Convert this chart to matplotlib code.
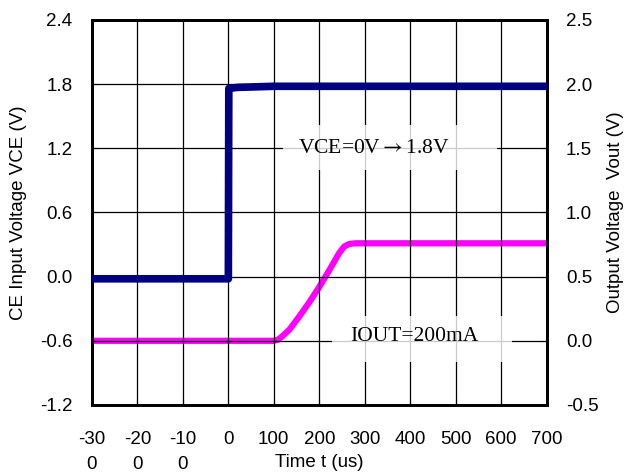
import matplotlib
matplotlib.use('Agg')
import matplotlib.pyplot as plt

# CE input step (left axis, V)
t_vce = [-300, -1, 0, 1, 20, 100, 300, 700]
vce = [-0.02, -0.02, -0.02, 1.76, 1.77, 1.78, 1.78, 1.78]

# output voltage (right axis, V)
t_out = [-300, 0, 100, 110, 120, 135, 156, 178, 200, 222, 235, 244, 255, 266,
         280, 310, 400, 500, 600, 700]
vout = [0.0, 0.0, 0.0, 0.01, 0.04, 0.09, 0.19, 0.30, 0.42, 0.55, 0.63, 0.685,
        0.735, 0.755, 0.76, 0.76, 0.76, 0.76, 0.76, 0.76]

xticks = [-300, -200, -100, 0, 100, 200, 300, 400, 500, 600, 700]
xlabels = ['-30\n0', '-20\n0', '-10\n0', '0', '100', '200', '300', '400', '500', '600', '700']
yl_ticks = [-1.2, -0.6, 0.0, 0.6, 1.2, 1.8, 2.4]
yr_ticks = [-0.5, 0.0, 0.5, 1.0, 1.5, 2.0, 2.5]

plt.rcParams['font.family'] = ['Liberation Sans', 'DejaVu Sans']
plt.rcParams['mathtext.fontset'] = 'stix'

fig = plt.figure(figsize=(6.37, 4.75), dpi=100)
ax = fig.add_axes([0.1444, 0.1474, 0.7136, 0.8105])
ax2 = ax.twinx()

ax.set_xlim(-300, 700)
ax.set_ylim(-1.2, 2.4)
ax2.set_ylim(-0.5, 2.5)

ax.set_xticks(xticks)
ax.set_xticklabels(xlabels, fontsize=13.5, linespacing=1.6)
ax.set_yticks(yl_ticks)
ax.set_yticklabels(['%.1f' % v for v in yl_ticks], fontsize=13.5)
ax2.set_yticks(yr_ticks)
ax2.set_yticklabels(['%.1f' % v for v in yr_ticks], fontsize=13.5)

ax.tick_params(axis='x', direction='in', length=4, pad=19)
ax.tick_params(axis='y', direction='in', length=4, pad=14)
ax2.tick_params(axis='y', direction='in', length=4, pad=14)

ax.grid(True, color='black', linewidth=0.9)
ax.set_axisbelow(True)
for a in (ax, ax2):
    for s in a.spines.values():
        s.set_linewidth(2)

ax2.plot(t_out, vout, color='#ff00ff', linewidth=4.5, solid_capstyle='round',
         solid_joinstyle='round', zorder=3)
ax.plot(t_vce, vce, color='#000080', linewidth=5.5, solid_capstyle='round',
        solid_joinstyle='round', zorder=3)
ax.set_zorder(ax2.get_zorder() + 1)
ax.patch.set_visible(False)

ax.set_ylabel('CE Input Voltage VCE (V)', fontsize=13.5, labelpad=9)
ax2.set_ylabel('Output Voltage  Vout (V)', fontsize=13.5, labelpad=6)
ax.set_xlabel('Time t (us)', fontsize=13.5, labelpad=-14)

# white text boxes over the grid
ax.add_patch(plt.Rectangle((120, 1.0), 471, 0.42, facecolor='white', alpha=0.8,
                           edgecolor='none', zorder=1))
ax.add_patch(plt.Rectangle((227, -0.8), 396, 0.43, facecolor='white', alpha=0.8,
                           edgecolor='none', zorder=1))
serif = ['Liberation Serif', 'DejaVu Serif']
ax.text(320, 1.2, 'VCE=0V$\\rightarrow$1.8V', fontsize=15.5, family=serif,
        ha='center', va='center', zorder=4)
ax.text(410, -0.56, 'IOUT=200mA', fontsize=15.5, family=serif,
        ha='center', va='center', zorder=4)

plt.savefig('out.png', dpi=100)
